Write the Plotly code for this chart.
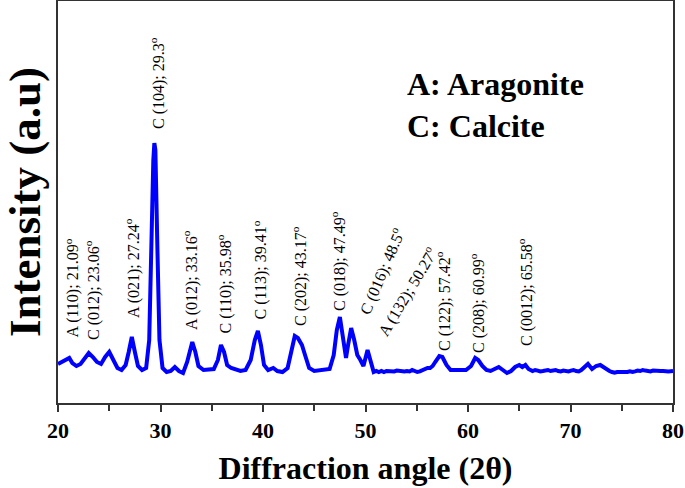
import plotly.graph_objects as go

# XRD pattern (2-theta in degrees, intensity in a.u.)
two_theta = [
    20.0, 20.4, 20.7, 21.1, 21.4, 21.8, 22.2, 22.6, 23.0, 23.4, 23.8, 24.2, 24.6, 25.0,
    25.4, 25.8, 26.2, 26.6, 26.9, 27.2, 27.5, 27.8, 28.2, 28.6, 28.9, 29.1, 29.3, 29.4,
    29.5, 29.7, 29.9, 30.2, 30.6, 31.0, 31.4, 31.8, 32.2, 32.6, 32.9, 33.1, 33.4, 33.7,
    34.2, 34.8, 35.2, 35.6, 35.9, 36.2, 36.5, 36.9, 37.3, 37.8, 38.3, 38.8, 39.2, 39.5,
    39.8, 40.1, 40.5, 41.0, 41.4, 41.9, 42.4, 42.8, 43.1, 43.4, 43.8, 44.1, 44.5, 45.0,
    45.5, 46.0, 46.5, 46.9, 47.2, 47.5, 47.8, 48.1, 48.3, 48.6, 48.9, 49.2, 49.5, 49.8,
    50.2, 50.5, 50.8, 51.05, 51.3, 51.55, 51.8, 52.05, 52.3, 52.55, 52.8, 53.05, 53.3, 53.55,
    53.8, 54.05, 54.3, 54.55, 54.8, 55.05, 55.3, 55.55, 55.8, 56.05, 56.3, 56.55, 56.8, 57.2,
    57.5, 57.9, 58.3, 58.8, 59.3, 59.8, 60.3, 60.7, 61.0, 61.4, 61.8, 62.2, 62.6, 63.0,
    63.4, 63.8, 64.2, 64.6, 65.0, 65.3, 65.6, 65.9, 66.3, 66.55, 66.8, 67.05, 67.3, 67.55,
    67.8, 68.05, 68.3, 68.55, 68.8, 69.05, 69.3, 69.55, 69.8, 70.05, 70.3, 70.55, 70.8, 71.05,
    71.3, 71.7, 72.1, 72.5, 72.9, 73.3, 73.8, 74.05, 74.3, 74.55, 74.8, 75.05, 75.3, 75.55,
    75.8, 76.05, 76.3, 76.55, 76.8, 77.05, 77.3, 77.55, 77.8, 78.05, 78.3, 78.55, 78.8, 79.05,
    79.3, 79.55, 80.0,
]
intensity = [
    975, 1025, 1050, 1125, 1000, 925, 975, 1125, 1250, 1150, 1025, 975, 1150, 1275,
    1075, 875, 825, 950, 1275, 1650, 1275, 925, 825, 875, 1575, 4075, 6075, 6500,
    6325, 3825, 1575, 875, 775, 800, 900, 800, 750, 1025, 1375, 1525, 1275, 925,
    825, 825, 850, 1075, 1450, 1275, 950, 875, 850, 800, 825, 1075, 1575, 1800,
    1450, 950, 825, 875, 800, 775, 875, 1325, 1675, 1625, 1450, 1200, 875, 800,
    825, 825, 850, 1200, 1825, 2150, 1700, 1125, 1450, 1875, 1575, 1200, 1075, 925,
    1325, 1025, 775, 800, 775, 800, 775, 800, 800, 775, 790, 810, 800, 775,
    790, 800, 790, 825, 800, 775, 790, 825, 850, 875, 875, 925, 1025, 1175,
    1150, 950, 825, 825, 800, 825, 925, 1125, 1075, 925, 825, 800, 850, 900,
    825, 750, 800, 900, 950, 900, 950, 850, 800, 825, 810, 790, 800, 825,
    825, 800, 810, 825, 800, 790, 810, 800, 790, 810, 825, 800, 790, 825,
    875, 975, 850, 925, 950, 875, 800, 775, 760, 775, 775, 760, 760, 775,
    790, 775, 790, 810, 800, 825, 810, 800, 790, 810, 800, 790, 800, 800,
    790, 790, 800,
]
assert len(two_theta) == len(intensity)

# peak labels (vertical)
label_text = [
    "A (110); 21.09", "C (012); 23.06", "A (021); 27.24", "C (104); 29.3",
    "A (012); 33.16", "C (110); 35.98", "C (113); 39.41", "C (202); 43.17",
    "C (018); 47.49", "C (122); 57.42", "C (208); 60.99", "C (0012); 65.58",
]
label_x = [21.37, 23.32, 27.22, 29.66, 32.88, 36.29, 39.71, 43.51, 47.32, 57.56, 60.88, 65.56]
label_y = [1575, 1525, 2075, 6800, 1775, 1700, 2025, 1875, 2250, 1250, 1200, 1375]

# peak labels (tilted)
tilted_text = ["C (016); 48.5", "A (132); 50.27"]
tilted_x = [48.68, 50.44]
tilted_y = [2075, 1500]
tilted_angle = [-67, -59]

serif = "Liberation Serif, Times New Roman, serif"

fig = go.Figure()
fig.add_trace(go.Scatter(x=two_theta, y=intensity, mode="lines",
                         line=dict(color="#0000FF", width=4), showlegend=False))

for t, x, y in zip(label_text, label_x, label_y):
    fig.add_annotation(x=x, y=y, text=t + "<sup>o</sup>", textangle=-90,
                       showarrow=False, xanchor="center", yanchor="bottom",
                       font=dict(family=serif, size=16, color="black"))

for t, x, y, a in zip(tilted_text, tilted_x, tilted_y, tilted_angle):
    fig.add_annotation(x=x, y=y, text=t + "<sup>o</sup>", textangle=a,
                       showarrow=False, xanchor="left", yanchor="bottom",
                       font=dict(family=serif, size=16, color="black"))

fig.add_annotation(xref="paper", yref="paper", x=0.565, y=0.793, text="A: Aragonite",
                   showarrow=False, xanchor="left", yanchor="middle",
                   font=dict(family=serif, size=32, color="black", weight="bold"))
fig.add_annotation(xref="paper", yref="paper", x=0.565, y=0.689, text="C: Calcite",
                   showarrow=False, xanchor="left", yanchor="middle",
                   font=dict(family=serif, size=32, color="black", weight="bold"))

fig.update_layout(
    width=685, height=488,
    margin=dict(l=58, r=12, t=1, b=85, autoexpand=False),
    plot_bgcolor="white", paper_bgcolor="white",
    xaxis=dict(
        range=[20, 80], dtick=10, ticks="outside", ticklen=7, tickwidth=2,
        tickcolor="#333", showline=True, linecolor="#333", linewidth=2, mirror=True,
        showgrid=False, zeroline=False, automargin=False,
        minor=dict(dtick=5, ticks="outside", ticklen=6, tickwidth=2, tickcolor="#333"),
        tickfont=dict(family=serif, size=22, color="black", weight="bold"),
        title=dict(text="Diffraction angle (2θ)", standoff=14,
                   font=dict(family=serif, size=32, color="black", weight="bold")),
    ),
    yaxis=dict(
        range=[0, 10050], showticklabels=False, ticks="", showline=True,
        linecolor="#333", linewidth=2, mirror=True, showgrid=False, zeroline=False,
        automargin=False,
        title=dict(text="Intensity (a.u)", standoff=18,
                   font=dict(family=serif, size=45, color="black", weight="bold")),
    ),
)

# drop the browser's default page margin so the figure sits at the window origin
fig.write_html("out.html", config={"displayModeBar": False},
               post_script="document.body.style.margin='0';")
